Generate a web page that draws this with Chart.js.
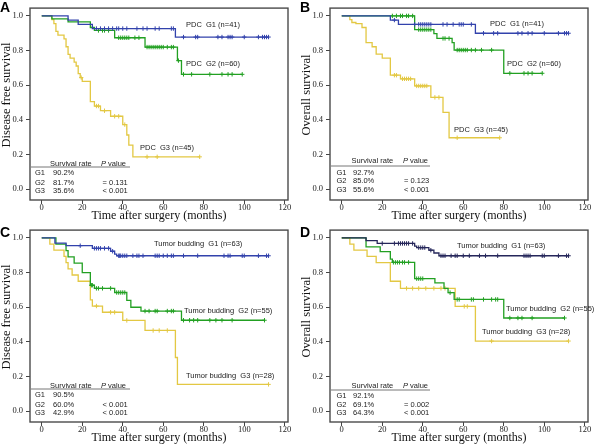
<!DOCTYPE html>
<html>
<head>
<meta charset="utf-8">
<script src="https://cdn.jsdelivr.net/npm/chart.js@4.4.0/dist/chart.umd.min.js"></script>
<style>
  body { margin: 0; background: #fff; width: 600px; height: 444px; position: relative; overflow: hidden; }
  canvas { position: absolute; }
</style>
</head>
<body>
<canvas id="cA" width="300" height="222" style="left:0;top:0"></canvas>
<canvas id="cB" width="300" height="222" style="left:300px;top:0"></canvas>
<canvas id="cC" width="300" height="222" style="left:0;top:222px"></canvas>
<canvas id="cD" width="300" height="222" style="left:300px;top:222px"></canvas>
<script>
// axis ticks
const xTicks = [0, 20, 40, 60, 80, 100, 120]
const yTicks = [0, 0.2, 0.4, 0.6, 0.8, 1.0]

// A - PDC, disease free survival (event times, survival after event, censored times)
const aG1Time = [13, 18, 25, 66]
const aG1Surv = [0.976, 0.951, 0.927, 0.878]
const aG1Cens = [27, 29, 31, 33, 35, 37, 38, 40, 42, 47, 50, 52, 56, 58, 64, 65, 70, 76, 77, 87, 89, 92, 93, 94, 100, 107, 109, 110, 111, 112]
const aG2Time = [5, 13, 24, 26, 36, 51, 67, 69]
const aG2Surv = [0.983, 0.966, 0.933, 0.916, 0.874, 0.82, 0.742, 0.663]
const aG2Cens = [28, 30, 31, 33, 38, 39, 40, 41, 42, 43, 46, 48, 52, 53, 54, 55, 56, 57, 58, 59, 60, 62, 64, 65, 67.5, 70, 74, 83, 89, 92, 94, 99]
const aG3Time = [5, 6, 7, 8, 11, 12, 13, 14, 16, 17, 18, 19, 20, 24, 26, 29, 34, 40, 42, 43, 45]
const aG3Surv = [0.978, 0.956, 0.911, 0.889, 0.867, 0.822, 0.778, 0.756, 0.733, 0.711, 0.667, 0.644, 0.622, 0.506, 0.48, 0.453, 0.421, 0.373, 0.313, 0.255, 0.187]
const aG3Cens = [19.5, 27, 28, 31, 36, 38, 41, 52, 57, 78]
const aRates = ["90.2%", "81.7%", "35.6%"]
const aPvals = ["", "= 0.131", "< 0.001"]

// B - PDC, overall survival
const bG1Time = [24, 28, 66]
const bG1Surv = [0.976, 0.951, 0.90]
const bG1Cens = [26, 36, 38, 39, 40, 41, 42, 43, 44, 50, 52, 55, 58, 59, 60, 64, 70, 75, 77, 87, 89, 92, 94, 100, 107, 110, 111, 112]
const bG2Time = [36, 45.5, 47, 54.5, 55.5, 80]
const bG2Surv = [0.921, 0.898, 0.87, 0.846, 0.803, 0.669]
const bG2Cens = [25, 27, 29, 30, 32, 33, 35, 38, 39, 40, 41, 42, 43, 44, 50, 51, 53, 57, 58, 59, 60, 61, 62, 64, 66, 69, 74, 83, 90, 92, 94, 99]
const bG3Time = [4, 5, 7, 10, 12, 15, 17, 20, 24, 29, 36, 44, 50, 53]
const bG3Surv = [0.978, 0.962, 0.955, 0.933, 0.846, 0.822, 0.78, 0.756, 0.658, 0.637, 0.596, 0.53, 0.444, 0.297]
const bG3Cens = [26, 27, 30, 31, 32, 33, 34, 37, 38, 39, 40, 41, 42, 46, 48, 57, 78]
const bRates = ["92.7%", "85.0%", "55.6%"]
const bPvals = ["", "= 0.123", "< 0.001"]

// C - tumor budding, disease free survival
const cG1Time = [6.5, 12, 25, 34, 36, 37]
const cG1Surv = [0.97, 0.955, 0.94, 0.923, 0.906, 0.897]
const cG1Cens = [19, 26, 27, 28, 29, 31, 33, 35, 38, 38.5, 39, 40, 41, 42, 45, 47, 48, 50, 56, 57, 58, 60, 62, 64, 65, 70, 77, 90, 92, 93, 99, 100, 107, 111, 112]
const cG2Time = [7, 12, 13, 16, 20, 24, 26, 36, 42, 44, 49, 69]
const cG2Surv = [0.964, 0.927, 0.891, 0.855, 0.80, 0.727, 0.709, 0.685, 0.64, 0.60, 0.578, 0.525]
const cG2Cens = [24.5, 25, 27, 28, 30, 34, 37, 38, 39, 40, 41, 51, 53, 56, 57, 62, 64, 65, 70, 73, 75, 77, 83, 86, 89, 94, 110]
const cG3Time = [4, 6, 11, 12, 13, 15, 18, 24, 25, 30, 40, 51, 66, 67]
const cG3Surv = [0.964, 0.929, 0.893, 0.857, 0.821, 0.786, 0.75, 0.643, 0.607, 0.571, 0.524, 0.466, 0.31, 0.155]
const cG3Cens = [27, 34, 36, 42, 55, 58, 62, 112]
const cRates = ["90.5%", "60.0%", "42.9%"]
const cPvals = ["", "< 0.001", "< 0.001"]

// D - tumor budding, overall survival
const dG1Time = [12, 17.5, 36, 37, 43, 45.5, 48]
const dG1Surv = [0.984, 0.968, 0.952, 0.944, 0.929, 0.913, 0.897]
const dG1Cens = [20, 26, 28, 29, 30, 31, 32, 33, 35, 38, 39, 40, 41, 44, 49, 50, 51, 54, 56, 57, 60, 63, 68, 71, 77, 90, 91, 92, 93, 99, 100, 107, 111, 112]
const dG2Time = [12, 19, 24, 25, 36, 46, 50.5, 52.5, 55.5, 80]
const dG2Surv = [0.948, 0.921, 0.878, 0.859, 0.765, 0.741, 0.709, 0.684, 0.645, 0.538]
const dG2Cens = [25.5, 26.5, 27.5, 28.5, 30, 31, 33, 37, 38, 39, 40, 53.5, 57, 58, 64, 65, 70, 74, 76, 77, 83, 87, 89, 94, 110]
const dG3Time = [4, 6, 12.5, 17, 24, 29, 56, 66]
const dG3Surv = [0.964, 0.929, 0.893, 0.857, 0.75, 0.709, 0.605, 0.405]
const dG3Cens = [32, 35, 38, 41.5, 45.5, 49, 51, 60.5, 62, 74, 112]
const dRates = ["92.1%", "69.1%", "64.3%"]
const dPvals = ["", "= 0.002", "< 0.001"]

const groupNames = ["G1", "G2", "G3"]

const BLUE = "#3242ac"
const NAVY = "#25265a"
const GREEN = "#22a022"
const YELLOW = "#e3c843"
const SERIF = '"Liberation Serif", "Times New Roman", serif'
const SANS = '"Liberation Sans", Arial, sans-serif'

// step curve starting at 1.0 and running to the last follow-up
function stepPoints(times, surv, cens) {
    const end = Math.max(...times, ...cens)
    const pts = [{ x: 0, y: 1 }]
    times.forEach((t, i) => pts.push({ x: t, y: surv[i] }))
    pts.push({ x: end, y: surv[surv.length - 1] })
    return pts
}

// censored marks sit on the curve
function censorPoints(times, surv, cens) {
    return cens.map((c) => {
        let y = 1
        times.forEach((t, i) => { if (t <= c) y = surv[i] })
        return { x: c, y: y }
    })
}

const panels = [
    {
        id: "cA", letter: "A", letterY: 12, yTitle: "Disease free survival",
        groups: [[aG1Time, aG1Surv, aG1Cens, BLUE], [aG2Time, aG2Surv, aG2Cens, GREEN], [aG3Time, aG3Surv, aG3Cens, YELLOW]],
        labels: [["PDC  G1 (n=41)", 186, 25], ["PDC  G2 (n=60)", 186, 63.5], ["PDC  G3 (n=45)", 140, 148]],
        rates: aRates, pvals: aPvals,
        table: { headY: 163.5, lineY: 167, rows: [173, 182.5, 190.5], gx: 35, rx: 53, px: 102.5, hx: 50, hpx: 101 },
    },
    {
        id: "cB", letter: "B", letterY: 12, yTitle: "Overall survival",
        groups: [[bG1Time, bG1Surv, bG1Cens, BLUE], [bG2Time, bG2Surv, bG2Cens, GREEN], [bG3Time, bG3Surv, bG3Cens, YELLOW]],
        labels: [["PDC  G1 (n=41)", 190, 23.5], ["PDC  G2 (n=60)", 207, 63.5], ["PDC  G3 (n=45)", 154, 130]],
        rates: bRates, pvals: bPvals,
        table: { headY: 161, lineY: 166, rows: [172.5, 181, 189.5], gx: 36.5, rx: 53, px: 104, hx: 51.5, hpx: 103 },
    },
    {
        id: "cC", letter: "C", letterY: 14.5, yTitle: "Disease free survival",
        groups: [[cG1Time, cG1Surv, cG1Cens, BLUE], [cG2Time, cG2Surv, cG2Cens, GREEN], [cG3Time, cG3Surv, cG3Cens, YELLOW]],
        labels: [["Tumor budding  G1 (n=63)", 154, 22], ["Tumor budding  G2 (n=55)", 184, 89], ["Tumor budding  G3 (n=28)", 186, 153.5]],
        rates: cRates, pvals: cPvals,
        table: { headY: 163.5, lineY: 167, rows: [173, 182.5, 190.5], gx: 35, rx: 53, px: 102.5, hx: 50, hpx: 101 },
    },
    {
        id: "cD", letter: "D", letterY: 14.5, yTitle: "Overall survival",
        groups: [[dG1Time, dG1Surv, dG1Cens, NAVY], [dG2Time, dG2Surv, dG2Cens, GREEN], [dG3Time, dG3Surv, dG3Cens, YELLOW]],
        labels: [["Tumor budding  G1 (n=63)", 157, 24], ["Tumor budding  G2 (n=55)", 206, 87], ["Tumor budding  G3 (n=28)", 182, 109.5]],
        rates: dRates, pvals: dPvals,
        table: { headY: 163.5, lineY: 168, rows: [173.5, 182.5, 191], gx: 36.5, rx: 53, px: 104, hx: 51.5, hpx: 103 },
    },
]

// frame, panel letter, curve labels, axis titles and the small survival table
const decor = {
    id: "decor",
    afterDraw(chart, args, opts) {
        const p = opts.panel
        const ctx = chart.ctx
        const a = chart.chartArea
        ctx.save()
        ctx.strokeStyle = "#4a4a4a"
        ctx.lineWidth = 1.4
        ctx.strokeRect(a.left, a.top, a.right - a.left, a.bottom - a.top)

        ctx.fillStyle = "#000"
        ctx.font = "bold 14px " + SANS
        ctx.textBaseline = "alphabetic"
        ctx.fillText(p.letter, 0, p.letterY)

        // axis titles
        ctx.fillStyle = "#111"
        ctx.font = "12px " + SERIF
        ctx.textAlign = "center"
        ctx.textBaseline = "middle"
        ctx.fillText("Time after surgery (months)", 159, 215.5)
        ctx.save()
        ctx.translate(6.5, 95)
        ctx.rotate(-Math.PI / 2)
        ctx.font = "12.5px " + SERIF
        ctx.fillText(p.yTitle, 0, 0)
        ctx.restore()

        ctx.textAlign = "left"
        ctx.fillStyle = "#222"
        ctx.font = "7.5px " + SANS
        p.labels.forEach((l) => ctx.fillText(l[0], l[1], l[2]))

        const t = p.table
        ctx.fillText("Survival rate", t.hx, t.headY)
        ctx.font = "italic 7.5px " + SANS
        ctx.fillText("P", t.hpx, t.headY)
        const pw = ctx.measureText("P ").width
        ctx.font = "7.5px " + SANS
        ctx.fillText("value", t.hpx + pw, t.headY)
        ctx.strokeStyle = "#777"
        ctx.lineWidth = 1
        ctx.beginPath()
        ctx.moveTo(a.left + 1, t.lineY)
        ctx.lineTo(130, t.lineY)
        ctx.stroke()
        groupNames.forEach((g, i) => {
            ctx.fillText(g, t.gx, t.rows[i])
            ctx.fillText(p.rates[i], t.rx, t.rows[i])
            if (p.pvals[i]) ctx.fillText(p.pvals[i], t.px, t.rows[i])
        })
        ctx.restore()
    },
}

panels.forEach((p) => {
    const datasets = []
    p.groups.forEach((g) => {
        datasets.push({
            data: stepPoints(g[0], g[1], g[2]),
            stepped: true,
            borderColor: g[3],
            borderWidth: 1.3,
            pointRadius: 0,
            fill: false,
        })
        datasets.push({
            data: censorPoints(g[0], g[1], g[2]),
            showLine: false,
            pointStyle: "cross",
            pointRadius: 2.2,
            borderColor: g[3],
            borderWidth: 1,
        })
    })

    new Chart(document.getElementById(p.id), {
        type: "line",
        data: { datasets: datasets },
        plugins: [decor],
        options: {
            responsive: false,
            animation: false,
            layout: { padding: { left: 0, right: 12, top: 3, bottom: 0 } },
            plugins: {
                legend: { display: false },
                tooltip: { enabled: false },
                decor: { panel: p },
            },
            scales: {
                x: {
                    type: "linear",
                    min: -5.8,
                    max: 121.6,
                    afterFit: (s) => { s.height = 22 },
                    afterBuildTicks: (s) => { s.ticks = xTicks.map((v) => ({ value: v })) },
                    border: { display: false },
                    grid: { drawOnChartArea: false, tickLength: 4, color: "#444" },
                    ticks: { padding: -1, color: "#222", font: { family: SERIF, size: 8.5 }, maxRotation: 0 },
                },
                y: {
                    min: -0.062,
                    max: 1.045,
                    afterFit: (s) => { s.width = 30 },
                    afterBuildTicks: (s) => { s.ticks = yTicks.map((v) => ({ value: v })) },
                    border: { display: false },
                    grid: { drawOnChartArea: false, tickLength: 4, color: "#444" },
                    ticks: {
                        padding: 3,
                        color: "#222",
                        font: { family: SERIF, size: 8.5 },
                        callback: (v) => v.toFixed(1),
                    },
                },
            },
        },
    })
})
</script>
</body>
</html>
